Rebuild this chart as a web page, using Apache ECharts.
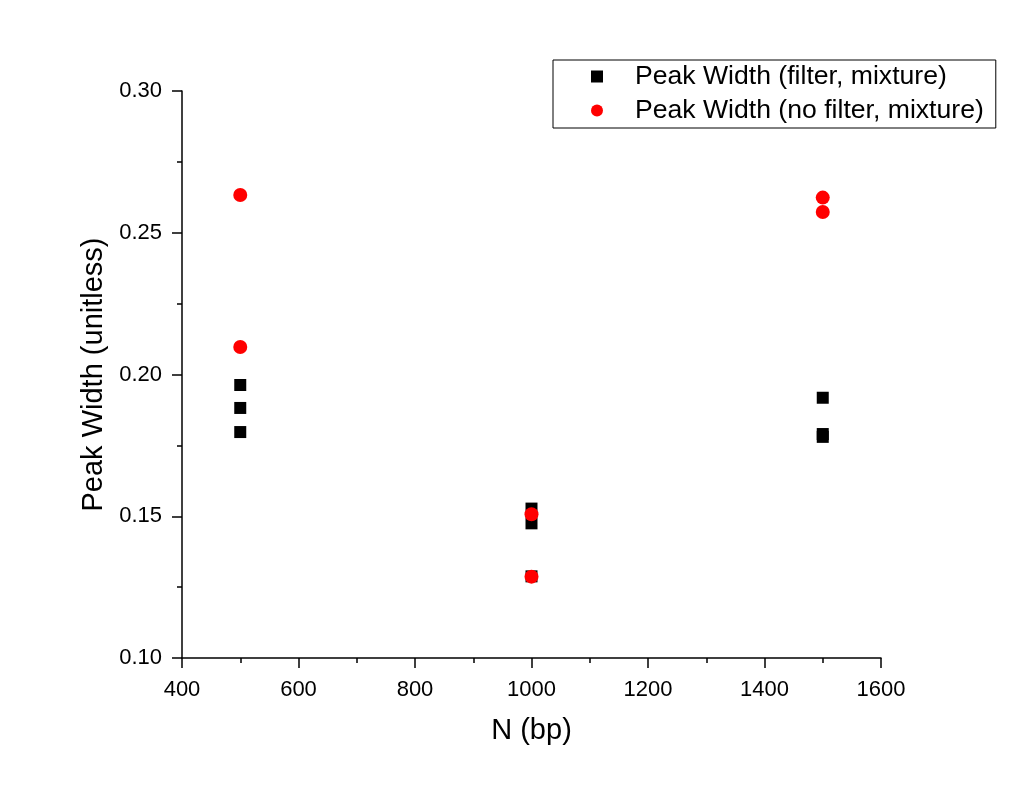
<!DOCTYPE html>
<html>
<head>
    <meta charset="UTF-8">
    <title>Peak Width vs N</title>
    <script src="https://cdn.jsdelivr.net/npm/echarts/dist/echarts.min.js"></script>
</head>
<body style="margin:0;background:#fff;">
    <div id="chart" style="width:1024px;height:789px;"></div>
    <script type="text/javascript">
        // N (bp) values and peak widths
        var filterN = [500, 500, 500, 1000, 1000, 1000, 1500, 1500, 1500];
        var filterWidth = [0.1963, 0.1882, 0.1797, 0.1527, 0.1475, 0.1288, 0.1918, 0.1790, 0.1780];
        var noFilterN = [500, 500, 1000, 1000, 1500, 1500];
        var noFilterWidth = [0.2633, 0.2097, 0.1507, 0.1287, 0.2624, 0.2573];

        function pairs(xs, ys) {
            return xs.map(function (x, i) { return [x, ys[i]]; });
        }

        var myChart = echarts.init(document.getElementById('chart'));
        var font = 'Liberation Sans, Arial, sans-serif';

        var option = {
            backgroundColor: '#fff',
            animation: false,
            textStyle: { fontFamily: font },
            grid: { left: 182, right: 143, top: 91, bottom: 131 },
            legend: {
                orient: 'vertical',
                left: 553,
                top: 60,
                padding: [3, 12, 4, 38],
                itemGap: 7,
                itemWidth: 12,
                itemHeight: 12,
                borderColor: '#000',
                borderWidth: 1,
                borderRadius: 0,
                textStyle: { fontSize: 26.6, color: '#000', fontFamily: font, padding: [0, 0, 0, 27] },
                data: [
                    { name: 'Peak Width (filter, mixture)', icon: 'rect' },
                    { name: 'Peak Width (no filter, mixture)', icon: 'circle' }
                ]
            },
            xAxis: {
                type: 'value',
                name: 'N (bp)',
                nameLocation: 'middle',
                nameGap: 58,
                nameTextStyle: { fontSize: 29, color: '#000' },
                min: 400,
                max: 1600,
                interval: 200,
                axisLine: { show: true, onZero: false, lineStyle: { color: '#000', width: 1.5 } },
                axisTick: { show: true, inside: false, length: 10, lineStyle: { color: '#000', width: 1.5 } },
                minorTick: { show: true, splitNumber: 2, length: 5, lineStyle: { color: '#000', width: 1.5 } },
                axisLabel: {
                    fontSize: 22, color: '#000', margin: 21,
                    formatter: function (v) { return String(v); }
                },
                splitLine: { show: false }
            },
            yAxis: {
                type: 'value',
                name: 'Peak Width (unitless)',
                nameLocation: 'middle',
                nameGap: 69,
                nameTextStyle: { fontSize: 29, color: '#000' },
                min: 0.10,
                max: 0.30,
                interval: 0.05,
                axisLine: { show: true, onZero: false, lineStyle: { color: '#000', width: 1.5 } },
                axisTick: { show: true, inside: false, length: 10, lineStyle: { color: '#000', width: 1.5 } },
                minorTick: { show: true, splitNumber: 2, length: 5, lineStyle: { color: '#000', width: 1.5 } },
                axisLabel: {
                    fontSize: 22, color: '#000', margin: 20,
                    formatter: function (v) { return v.toFixed(2); }
                },
                splitLine: { show: false }
            },
            series: [
                {
                    name: 'Peak Width (filter, mixture)',
                    type: 'scatter',
                    symbol: 'rect',
                    symbolSize: 12,
                    itemStyle: { color: '#000', opacity: 1 },
                    data: pairs(filterN, filterWidth)
                },
                {
                    name: 'Peak Width (no filter, mixture)',
                    type: 'scatter',
                    symbol: 'circle',
                    symbolSize: 14,
                    itemStyle: { color: '#ff0000', opacity: 1 },
                    data: pairs(noFilterN, noFilterWidth)
                }
            ]
        };

        myChart.setOption(option);
    </script>
</body>
</html>
